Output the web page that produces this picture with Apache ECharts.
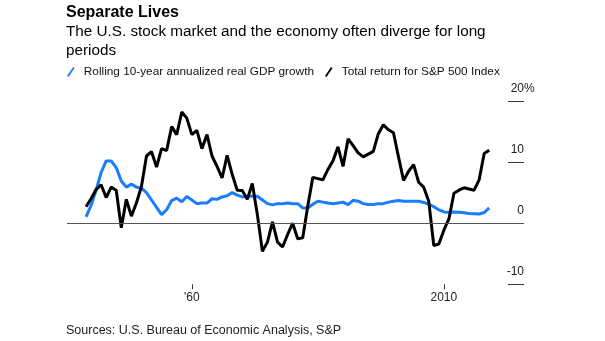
<!DOCTYPE html>
<html><head><meta charset="utf-8">
<script src="https://cdn.jsdelivr.net/npm/echarts@6/dist/echarts.min.js"></script>
<style>html,body{margin:0;padding:0;background:#fff}#c{width:605px;height:341px}</style>
</head><body><div id="c"></div>
<script>
// ---- data ----
const firstYear = 1939;
const gdpGrowth = [1.05, 2.9, 5.4, 8.3, 10.2, 10.2, 9.1, 6.9, 5.9, 6.4,
  5.9, 5.75, 5.0, 3.8, 2.6, 1.4, 2.2, 3.7, 4.1, 3.5,
  4.35, 3.8, 3.2, 3.3, 3.3, 4.0, 3.9, 4.3, 4.5, 5.0,
  4.6, 4.3, 4.4, 4.4, 4.4, 3.8, 3.2, 3.0, 3.2, 3.2,
  3.3, 3.2, 3.2, 2.5, 2.5, 3.1, 3.6, 3.45, 3.3, 3.2,
  3.3, 3.45, 3.05, 3.75, 3.6, 3.2, 3.05, 3.05, 3.2, 3.2,
  3.45, 3.6, 3.7, 3.6, 3.6, 3.6, 3.6, 3.4, 3.1, 2.7,
  2.2, 1.85, 1.8, 1.85, 1.8, 1.7, 1.6, 1.55, 1.5, 1.75, 2.5];
const spReturn = [2.7, 4.0, 5.5, 6.3, 4.2, 5.9, 5.4, -0.75, 3.9, 1.15,
  3.3, 6.0, 11.0, 11.7, 9.2, 12.2, 11.9, 15.8, 14.5, 18.2,
  17.2, 14.5, 15.2, 12.2, 14.5, 11.0, 9.3, 7.4, 11.1, 8.0,
  5.4, 5.35, 3.9, 6.5, 1.4, -4.6, -3.1, 0.2, -3.1, -3.9,
  -1.85, 0, -2.55, -2.4, 2.8, 7.5, 7.3, 7.1, 8.8, 10.2,
  12.5, 9.3, 13.8, 12.7, 11.5, 10.85, 11.3, 11.75, 14.65, 16.1,
  15.3, 14.8, 10.85, 7.0, 8.5, 9.6, 6.7, 5.9, 3.6, -3.65,
  -3.4, -1.15, 0.7, 4.9, 5.4, 5.8, 5.6, 5.4, 7.1, 11.4, 11.95];
const xTickValues = [1960, 2010];
const xTickLabels = ["'60", "2010"];
const yTickValues = [-10, 0, 10, 20];
const yTickLabels = ["-10", "0", "10", "20%"];
const seriesNames = ['Rolling 10-year annualized real GDP growth', 'Total return for S&P 500 Index'];
const titleText = 'Separate Lives';
const subtitleText = 'The U.S. stock market and the economy often diverge for long\nperiods';
const sourceText = 'Sources: U.S. Bureau of Economic Analysis, S&P';

// ---- build ----
const years = gdpGrowth.map((_, i) => firstYear + i);
const gdpData = years.map((y, i) => [y, gdpGrowth[i]]);
const spData = years.map((y, i) => [y, spReturn[i]]);
const FF = '"Liberation Sans", Arial, sans-serif';

const chart = echarts.init(document.getElementById('c'), null, {renderer: 'canvas'});
chart.setOption({
  animation: false,
  textStyle: {fontFamily: FF},
  title: [
    {text: titleText, left: 66, top: 5, padding: 0,
     textStyle: {fontFamily: FF, fontSize: 16, fontWeight: 'bold', color: '#000'}},
    {text: subtitleText, left: 66, top: 22.5, padding: 0,
     textStyle: {fontFamily: FF, fontSize: 15.25, fontWeight: 'normal', color: '#000', lineHeight: 19}},
    {text: sourceText, left: 66, top: 324.5, padding: 0,
     textStyle: {fontFamily: FF, fontSize: 12.5, fontWeight: 'normal', color: '#222'}}
  ],
  legend: {
    left: 67, top: 66, padding: 0,
    itemWidth: 8, itemHeight: 10, itemGap: 11,
    icon: 'path://M0,9.4L6.4,0L8,1.1L1.6,10.5Z',
    selectedMode: false,
    itemStyle: {borderWidth: 0},
    textStyle: {fontFamily: FF, fontSize: 11.8, color: '#111', padding: [0, 0, 0, 4]},
    data: seriesNames
  },
  grid: [
    {left: 67, right: 81, top: 101, bottom: 56.7},
    {left: 508, width: 16, top: 101, bottom: 56.7}
  ],
  xAxis: [
    {type: 'value', gridIndex: 0, min: 1935.23, max: 2025.9,
     axisLine: {show: false, onZero: false}, splitLine: {show: false},
     axisTick: {show: true, customValues: xTickValues, length: 5, lineStyle: {color: '#333', width: 1}},
     axisLabel: {customValues: xTickValues, margin: 7, fontSize: 12, color: '#222', fontFamily: FF,
       formatter: v => xTickLabels[xTickValues.indexOf(v)]}},
    {type: 'value', gridIndex: 1, show: false, min: 0, max: 1}
  ],
  yAxis: [
    {type: 'value', gridIndex: 0, min: -10, max: 20, interval: 10, show: false},
    {type: 'value', gridIndex: 1, min: -10, max: 20, interval: 10, position: 'right',
     axisLine: {show: false}, axisTick: {show: false},
     splitLine: {show: true, lineStyle: {color: '#333', width: 1}},
     axisLabel: {inside: true, margin: 22, align: 'left', fontSize: 12, color: '#222', fontFamily: FF,
       verticalAlign: 'bottom', lineHeight: 13, padding: [0, 0, 6, 0],
       formatter: v => {
         const s = yTickLabels[yTickValues.indexOf(v)];
         return s.endsWith('%') ? '{n|' + s.slice(0, -1) + '}{p|%}' : '{n|' + s + '}';
       },
       rich: {
         n: {width: 22, align: 'right', fontSize: 12, color: '#222', fontFamily: FF, lineHeight: 13},
         p: {align: 'right', fontSize: 12, color: '#222', fontFamily: FF, lineHeight: 13}
       }}}
  ],
  series: [
    {name: seriesNames[0], type: 'line', xAxisIndex: 0, yAxisIndex: 0, data: gdpData,
     showSymbol: false, color: '#1a7cff', lineStyle: {width: 3, color: '#1a7cff'},
     markLine: {silent: true, symbol: 'none', label: {show: false},
       lineStyle: {color: '#555', width: 1, type: 'solid'}, data: [{yAxis: 0}]}},
    {name: seriesNames[1], type: 'line', xAxisIndex: 0, yAxisIndex: 0, data: spData,
     showSymbol: false, color: '#000', lineStyle: {width: 3, color: '#000'}}
  ]
});
</script></body></html>
